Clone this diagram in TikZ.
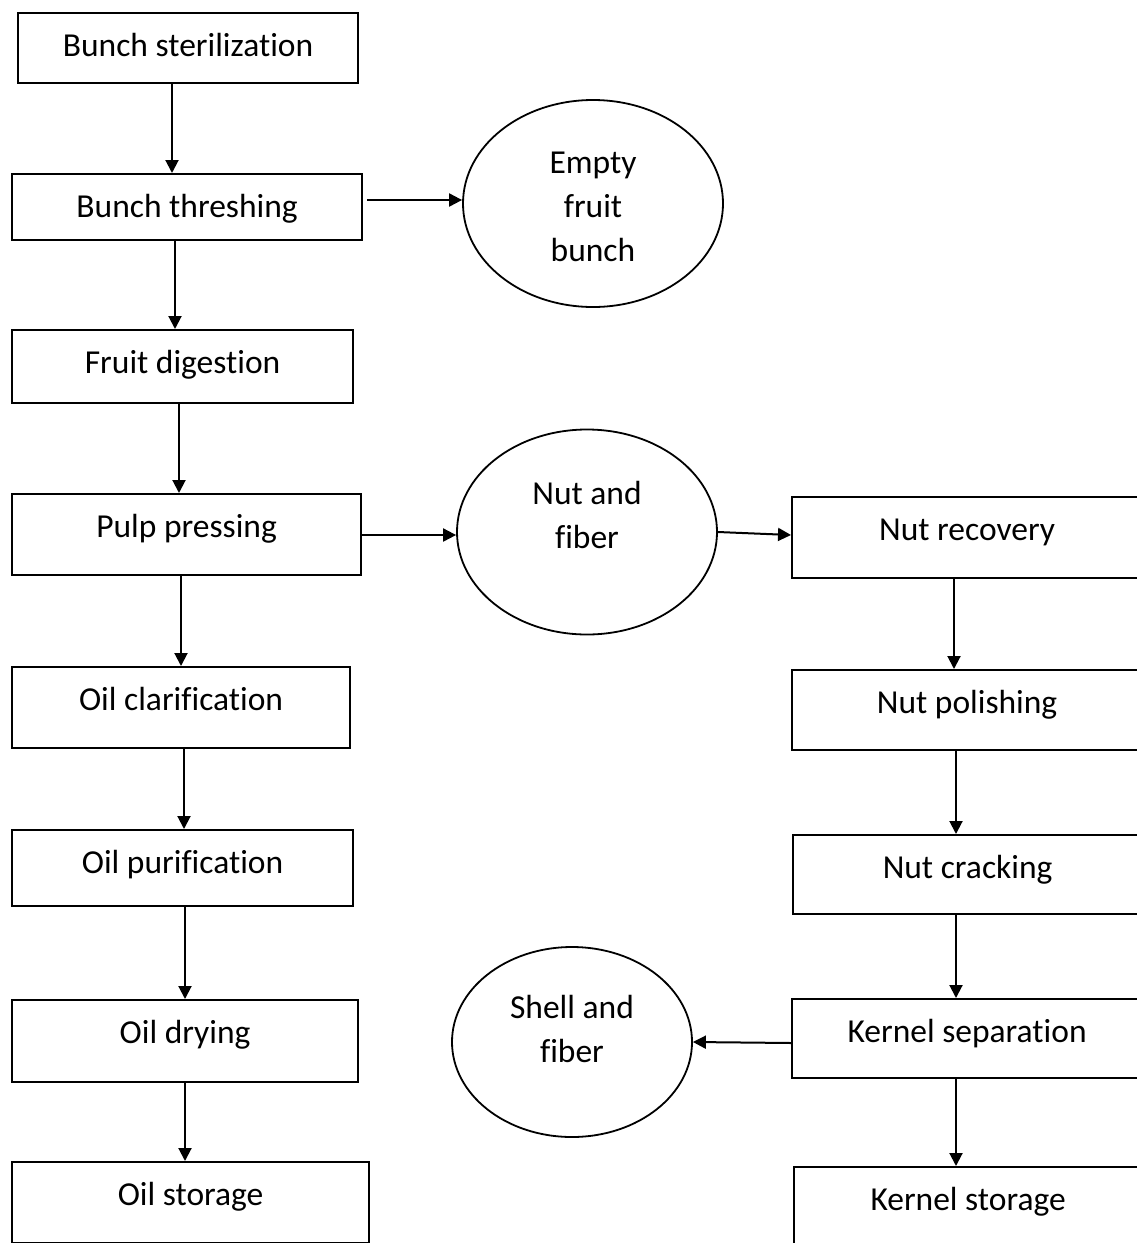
\documentclass[tikz,border=0pt]{standalone}
\usepackage{fontspec}
\setmainfont[Ligatures={NoCommon,NoContextual}]{Carlito}
\usetikzlibrary{arrows.meta,shapes.geometric,calc}
\newcommand\fsz{\fontsize{33.5}{44}\selectfont}
\newcommand\pbox[6]{\node[box, minimum width={(#4-#2)*1pt}, text height=43pt, text depth={(#5-#3-43)*1pt}] (#1) at (#2,#3) {#6};}
\begin{document}
\begin{tikzpicture}[x=1pt,y=-1pt,
  box/.style={draw, line width=2.2pt, inner sep=0pt, anchor=north west, font=\fsz},
  ell/.style={draw, ellipse, line width=1.8pt, inner sep=0pt},
  lbl/.style={font=\fsz, inner sep=0pt, anchor=base},
  arr/.style={line width=2pt, -{Triangle[length=13pt,width=13pt]}}]
\path[use as bounding box] (0,0) rectangle (1137,1243);
\clip (0,0) rectangle (1137,1243);
\fill[white] (0,0) rectangle (1137,1243);

% left column
\pbox{b1}{17}{12}{357}{82}{Bunch sterilization}
\pbox{b2}{11}{173}{361}{239}{Bunch threshing}
\pbox{b3}{11}{329}{352}{402}{Fruit digestion}
\pbox{b4}{11}{493}{360}{574}{Pulp pressing}
\pbox{b5}{11}{666}{349}{747}{Oil clarification}
\pbox{b6}{11}{829}{352}{905}{Oil purification}
\pbox{b7}{11}{999}{357}{1081}{Oil drying}
\pbox{b8}{11}{1161}{368}{1242}{Oil storage}

% right column (cut off at the right edge)
\pbox{r1}{791}{496}{1141}{577}{Nut recovery}
\pbox{r2}{791}{669}{1141}{749}{Nut polishing}
\pbox{r3}{792}{834}{1141}{913}{Nut cracking}
\pbox{r4}{791}{998}{1141}{1077}{Kernel separation}
\pbox{r5}{793}{1166}{1141}{1290}{Kernel storage}

% ellipses
\node[ell, minimum width=260pt, minimum height=207pt] (efb) at (593,203.5) {};
\node[lbl] (efb1) at (593,173) {Empty};
\node[lbl] (efb2) at (593,217) {fruit};
\node[lbl] (efb3) at (593,261) {bunch};

\node[ell, minimum width=260pt, minimum height=205pt] (nf) at (587,532) {};
\node[lbl] (nf1) at (587,504) {Nut and};
\node[lbl] (nf2) at (587,548) {fiber};

\node[ell, minimum width=240pt, minimum height=190pt] (sf) at (572,1042) {};
\node[lbl] (sf1) at (572,1018) {Shell and};
\node[lbl] (sf2) at (572,1062) {fiber};

% vertical connectors, left
\draw[arr] (172,0 |- b1.south) -- (172,0 |- b2.north);
\draw[arr] (175,0 |- b2.south) -- (175,0 |- b3.north);
\draw[arr] (179,0 |- b3.south) -- (179,0 |- b4.north);
\draw[arr] (181,0 |- b4.south) -- (181,0 |- b5.north);
\draw[arr] (184,0 |- b5.south) -- (184,0 |- b6.north);
\draw[arr] (185,0 |- b6.south) -- (185,0 |- b7.north);
\draw[arr] (185,0 |- b7.south) -- (185,0 |- b8.north);

% vertical connectors, right
\draw[arr] (954,0 |- r1.south) -- (954,0 |- r2.north);
\draw[arr] (956,0 |- r2.south) -- (956,0 |- r3.north);
\draw[arr] (956,0 |- r3.south) -- (956,0 |- r4.north);
\draw[arr] (956,0 |- r4.south) -- (956,0 |- r5.north);

% horizontal connectors
\draw[arr] ($(b2.east |- 0,200)+(4,0)$) -- (efb.west |- 0,200);
\draw[arr] (b4.east |- 0,535) -- (nf.west |- 0,535);
\draw[arr] (nf.east) -- (r1.west |- 0,535);
\draw[arr] (r4.west |- 0,1043) -- (sf.east);
\end{tikzpicture}
\end{document}
